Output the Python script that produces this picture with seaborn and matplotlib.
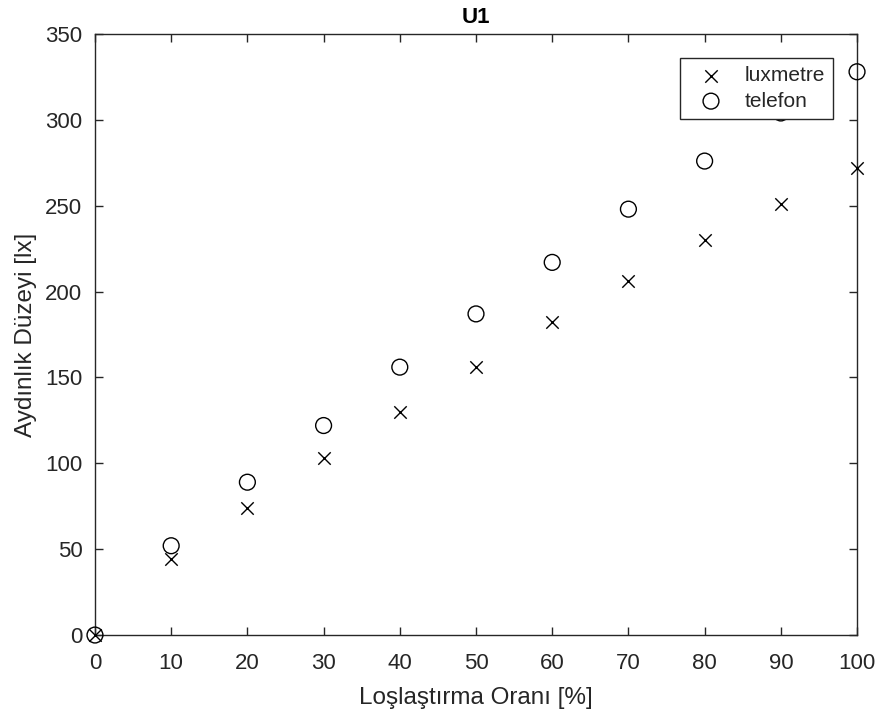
import matplotlib
matplotlib.use("Agg")
import matplotlib.pyplot as plt
import seaborn as sns
import pandas as pd

oran = [0, 10, 20, 30, 40, 50, 60, 70, 80, 90, 100]
luxmetre = [0, 44, 74, 103, 130, 156, 182, 206, 230, 251, 272]
telefon = [0, 52, 89, 122, 156, 187, 217, 248, 276, 304, 328]
x_ticks = [0, 10, 20, 30, 40, 50, 60, 70, 80, 90, 100]
y_ticks = [0, 50, 100, 150, 200, 250, 300, 350]

df_lux = pd.DataFrame({"oran": oran, "deger": luxmetre})
df_tel = pd.DataFrame({"oran": oran, "deger": telefon})

sns.set_style("white")
plt.rcParams["font.family"] = ["Liberation Sans", "DejaVu Sans"]
txt = "#262626"

fig = plt.figure(figsize=(8.81, 7.2), dpi=100)
ax = fig.add_axes([0.1078, 0.118, 0.865, 0.8348])

sns.scatterplot(data=df_lux, x="oran", y="deger", marker="x", s=80,
                color="black", linewidth=1.0, ax=ax, zorder=3, label="luxmetre",
                clip_on=False)
sns.scatterplot(data=df_tel, x="oran", y="deger", marker="o", s=130,
                facecolors="none", edgecolor="black", linewidth=1.0,
                ax=ax, zorder=3, label="telefon", clip_on=False)

ax.set_xlim(0, 100)
ax.set_ylim(0, 350)
ax.set_xticks(x_ticks)
ax.set_yticks(y_ticks)
ax.tick_params(direction="in", length=6, width=1, colors=txt, labelsize=16,
               top=True, right=True, bottom=True, left=True)
ax.tick_params(axis="x", pad=13)
ax.tick_params(axis="y", pad=9)
for s in ax.spines.values():
    s.set_visible(True)
    s.set_color(txt)
    s.set_linewidth(1.0)
ax.set_xlabel("Loşlaştırma Oranı [%]", fontsize=17.5, color=txt, labelpad=9)
ax.set_ylabel("Aydınlık Düzeyi [lx]", fontsize=17.5, color=txt, labelpad=6)
ax.set_title("U1", fontsize=16, fontweight="bold", color="black", pad=8)

leg = ax.legend(loc="upper right", bbox_to_anchor=(0.9685, 0.960), fontsize=15,
                frameon=True, fancybox=False, edgecolor=txt, handletextpad=0.5,
                borderpad=0.4, labelspacing=0.3, handlelength=2.2, framealpha=1,
                borderaxespad=0)
leg.get_frame().set_linewidth(1.0)
leg.set_zorder(5)

fig.savefig("out.png", dpi=100, facecolor="white")
